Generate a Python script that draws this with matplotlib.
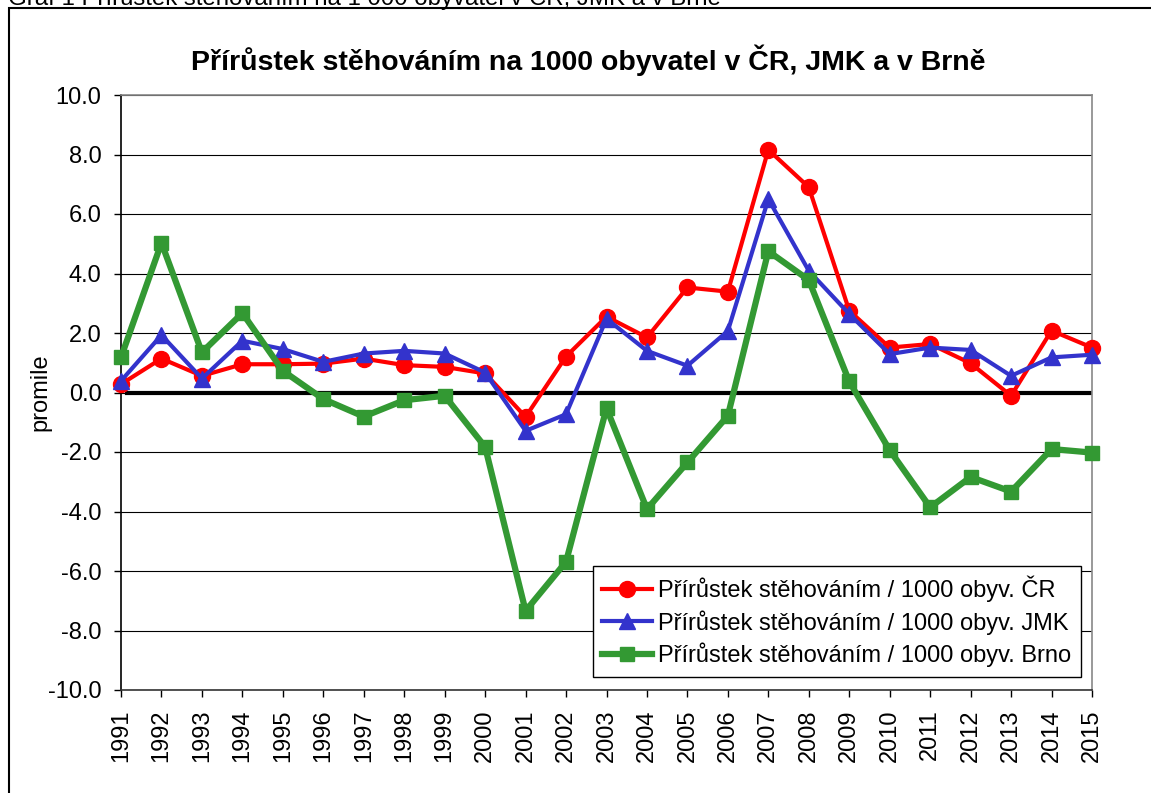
import matplotlib.pyplot as plt
from matplotlib.patches import Rectangle
from matplotlib.ticker import FormatStrFormatter

plt.rcParams['font.family'] = ['Liberation Sans', 'DejaVu Sans']
plt.rcParams['axes.unicode_minus'] = False

years = list(range(1991, 2016))

# prirustek stehovanim na 1000 obyvatel
cr = [0.28, 1.14, 0.56, 0.95, 0.95, 0.97, 1.14, 0.92, 0.86, 0.64,
      -0.82, 1.21, 2.55, 1.85, 3.53, 3.39, 8.16, 6.90, 2.75, 1.51,
      1.63, 0.98, -0.11, 2.08, 1.51]
jmk = [0.39, 1.93, 0.47, 1.74, 1.46, 1.03, 1.31, 1.40, 1.31, 0.67,
       -1.29, -0.73, 2.48, 1.40, 0.90, 2.07, 6.50, 4.09, 2.64, 1.29,
       1.51, 1.43, 0.56, 1.18, 1.27]
brno = [1.18, 5.03, 1.35, 2.67, 0.73, -0.22, -0.81, -0.26, -0.11, -1.83,
        -7.34, -5.69, -0.53, -3.92, -2.35, -0.78, 4.75, 3.78, 0.37, -1.94,
        -3.86, -2.84, -3.33, -1.90, -2.02]

labels = ['Přírůstek stěhováním / 1000 obyv. ČR',
          'Přírůstek stěhováním / 1000 obyv. JMK',
          'Přírůstek stěhováním / 1000 obyv. Brno']

W, H = 1151, 793
fig = plt.figure(figsize=(W / 100, H / 100), dpi=100)
ax = fig.add_axes([121 / W, 1 - 690 / H, 971 / W, 595 / H])

# outer frame of the chart object (runs off the right/bottom edge)
fig.patches.append(Rectangle((9 / W, -0.2), 1.2, 1 - 8 / H + 0.2,
                             transform=fig.transFigure, fill=False,
                             edgecolor='black', lw=1.5))
# caption above the chart, cut off by the page edge as in the source
fig.text(8 / W, 1 - 5.5 / H, 'Graf 1 Přírůstek stěhováním na 1 000 obyvatel v ČR, JMK a v Brně',
         fontsize=17.3, va='baseline', ha='left')

fig.text(588 / W, 1 - 60 / H, 'Přírůstek stěhováním na 1000 obyvatel v ČR, JMK a v Brně',
         fontsize=20.5, fontweight='bold', ha='center', va='center')

ax.plot(years, cr, color='#FF0000', lw=3, marker='o', ms=11.5,
        label=labels[0], clip_on=False, zorder=3)
ax.plot(years, jmk, color='#3333CC', lw=3, marker='^', ms=12,
        label=labels[1], clip_on=False, zorder=4)
ax.plot(years, brno, color='#339933', lw=4.5, marker='s', ms=10,
        label=labels[2], clip_on=False, zorder=5)

ax.axhline(0, xmin=0.006, color='black', lw=3, zorder=2)

ax.set_xlim(1991, 2015)
ax.set_ylim(-10, 10)
ax.set_yticks(range(-10, 11, 2))
ax.yaxis.set_major_formatter(FormatStrFormatter('%.1f'))
ax.set_xticks(years)
ax.set_xticklabels([str(y) for y in years], rotation=90)
ax.tick_params(axis='both', labelsize=17, direction='out', length=5, width=1)
ax.tick_params(axis='y', pad=9)
ax.tick_params(axis='x', pad=9)

ax.grid(axis='y', color='black', lw=0.8)
ax.set_axisbelow(True)
ax.spines['top'].set_color('#888888')
ax.spines['right'].set_color('#888888')
ax.spines['left'].set_color('black')
ax.spines['bottom'].set_color('#333333')
for s in ax.spines.values():
    s.set_linewidth(1.2)

ax.set_ylabel('promile', fontsize=17)
ax.yaxis.set_label_coords(-0.0721, 0.5)

leg = ax.legend(loc='lower right', bbox_to_anchor=(0.9887, 0.0218),
                borderaxespad=0, fontsize=17, fancybox=False,
                edgecolor='black', framealpha=1, handlelength=2.1,
                handletextpad=0.25, labelspacing=0.33, borderpad=0.42)
leg.get_frame().set_linewidth(1.0)

fig.savefig('out.png', dpi=100)
